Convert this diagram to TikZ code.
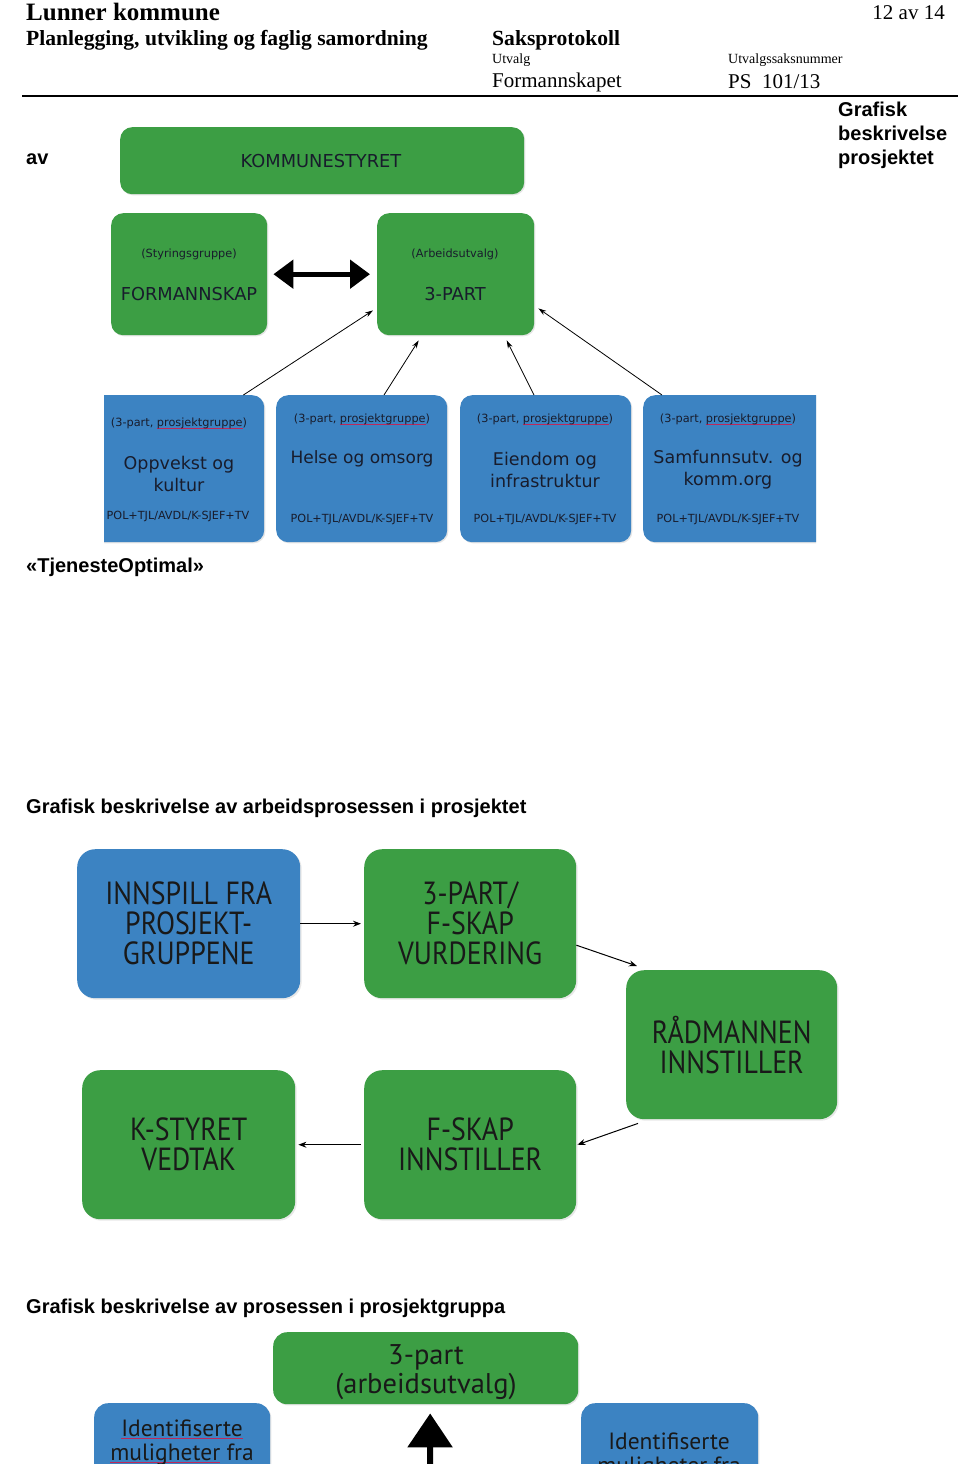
\documentclass[tikz,border=0pt]{standalone}
\usepackage{fontspec}
\setmainfont{Liberation Serif}
\newfontfamily\arialf{Liberation Sans}
\newfontfamily\boxf{PT Sans}
\newfontfamily\boxd{DejaVu Sans}
\newfontfamily\boxn[FakeStretch=0.87]{PT Sans}
\usetikzlibrary{arrows.meta,shadows}
\definecolor{boxgreen}{RGB}{60,158,68}
\definecolor{boxblue}{RGB}{60,131,194}
\definecolor{boxtext}{RGB}{24,28,44}
\definecolor{spellred}{RGB}{190,40,90}
\newcommand{\fs}[1]{\fontsize{#1}{#1}\selectfont}
\newcommand{\redul}[1]{\setbox0\hbox{#1}\rlap{\textcolor{spellred}{\raisebox{-2.2pt}{\rule{\wd0}{0.7pt}}}}#1}
\tikzset{
  txt/.style={inner sep=0pt, text=black},
  gbox/.style={fill=boxgreen, rounded corners=12pt, draw=none, inner sep=0pt,
    drop shadow={opacity=0.2, shadow xshift=1.2pt, shadow yshift=-1.2pt}},
  bbox/.style={fill=boxblue, rounded corners=12pt, draw=none, inner sep=0pt,
    drop shadow={opacity=0.2, shadow xshift=1.2pt, shadow yshift=-1.2pt}},
  mbox/.style={rounded corners=18pt, draw=none, inner sep=0pt, align=center,
    text=black!90, minimum width=212pt, minimum height=149pt,
    drop shadow={opacity=0.18, shadow xshift=1.5pt, shadow yshift=-1.5pt}},
  btxt/.style={inner sep=0pt, text=boxtext},
  thinarrow/.style={line width=0.8pt, -{Stealth[length=8pt,width=5pt]}},
  midarrow/.style={line width=1pt, -{Stealth[length=8pt,width=6pt]}},
  dblarrow/.style={line width=5pt, {Triangle[length=20pt,width=28pt]}-{Triangle[length=20pt,width=28pt]}},
  fatarrow/.style={line width=6pt, -{Triangle[length=34pt,width=44pt]}},
  lbl/.style={inner sep=0pt, anchor=west, font=\arialf\bfseries\fs{20}},
}
\begin{document}
\begin{tikzpicture}[x=1pt,y=-1pt]
\useasboundingbox (0,0) rectangle (960,1464);
\clip (0,0) rectangle (960,1464);
\fill[white] (0,0) rectangle (960,1464);

% ---------- header ----------
\node[txt, anchor=west, font=\bfseries\fs{25}] (h1) at (26,12) {Lunner kommune};
\node[txt, anchor=east, font=\fs{21}] (pg) at (945,13) {12 av 14};
\node[txt, anchor=west, font=\bfseries\fs{21.6}] (h2) at (26,40) {Planlegging, utvikling og faglig samordning};
\node[txt, anchor=west, font=\bfseries\fs{21.6}] (h3) at (492,40) {Saksprotokoll};
\node[txt, anchor=west, font=\fs{14}] (h4) at (492,60) {Utvalg};
\node[txt, anchor=west, font=\fs{14}] (h5) at (728,60) {Utvalgssaksnummer};
\node[txt, anchor=west, font=\fs{21}] (h6) at (492,82) {Formannskapet};
\node[txt, anchor=west, font=\fs{21}] (h7) at (728,82) {PS\ \ 101/13};
\coordinate (rl) at (22,96);
\coordinate (rr) at (958,96);
\draw[line width=2pt] (rl) -- (rr);

\node[lbl, anchor=north west, align=left, font=\arialf\bfseries\fontsize{20}{24}\selectfont] (side) at (838,102) {Grafisk\\beskrivelse\\prosjektet};
\node[lbl] (av) at (26,159) {av};

% ---------- top diagram ----------
\begin{scope}
\clip (104,100) rectangle (816,543);
\node[gbox, anchor=north west, minimum width=404pt, minimum height=67pt] (ks) at (120,127) {};
\node[gbox, anchor=north west, minimum width=156pt, minimum height=122pt] (fm) at (111,213) {};
\node[gbox, anchor=north west, minimum width=157pt, minimum height=122pt] (tp) at (377,213) {};
\node[bbox, anchor=north west, minimum width=172pt, minimum height=147pt] (b1) at (92,395) {};
\node[bbox, anchor=north west, minimum width=171pt, minimum height=147pt] (b2) at (276,395) {};
\node[bbox, anchor=north west, minimum width=171pt, minimum height=147pt] (b3) at (460,395) {};
\node[bbox, anchor=north west, minimum width=185pt, minimum height=147pt] (b4) at (643,395) {};
\end{scope}

\node[btxt, font=\boxd\fs{17.8}] (ksT) at (321,161) {KOMMUNESTYRET};
\node[btxt, font=\boxd\fs{11.3}] (fmS) at (189,254) {(Styringsgruppe)};
\node[btxt, font=\boxd\fs{17.8}] (fmT) at (189,294) {FORMANNSKAP};
\node[btxt, font=\boxd\fs{11.3}] (tpS) at (455,254) {(Arbeidsutvalg)};
\node[btxt, font=\boxd\fs{17.8}] (tpT) at (455,294) {3-PART};

\node[btxt, font=\boxd\fs{11.3}] (b1S) at (179,423) {(3-part, \redul{prosjektgruppe})};
\node[btxt, align=center, font=\boxd\fontsize{17.5}{22}\selectfont] (b1T) at (179,474) {Oppvekst og\\kultur};
\node[btxt, font=\boxd\fs{11.2}] (b1P) at (178,516) {POL+TJL/AVDL/K-SJEF+TV};

\node[btxt, font=\boxd\fs{11.3}] (b2S) at (362,419) {(3-part, \redul{prosjektgruppe})};
\node[btxt, font=\boxd\fs{17}] (b2T) at (362,459) {Helse og omsorg};
\node[btxt, font=\boxd\fs{11.2}] (b2P) at (362,519) {POL+TJL/AVDL/K-SJEF+TV};

\node[btxt, font=\boxd\fs{11.3}] (b3S) at (545,419) {(3-part, \redul{prosjektgruppe})};
\node[btxt, align=center, font=\boxd\fontsize{17.5}{22}\selectfont] (b3T) at (545,470) {Eiendom og\\infrastruktur};
\node[btxt, font=\boxd\fs{11.2}] (b3P) at (545,519) {POL+TJL/AVDL/K-SJEF+TV};

\node[btxt, font=\boxd\fs{11.3}] (b4S) at (728,419) {(3-part, \redul{prosjektgruppe})};
\node[btxt, align=center, font=\boxd\fontsize{17.5}{22}\selectfont] (b4T) at (728,470) {Samfunnsutv. og\\komm.org};
\node[btxt, font=\boxd\fs{11.2}] (b4P) at (728,519) {POL+TJL/AVDL/K-SJEF+TV};

\draw[dblarrow, shorten <=6pt, shorten >=7pt] (fm.east) -- (tp.west);
\draw[thinarrow] ([xshift=-21pt]b1.north east) -- ([xshift=-4pt,yshift=25pt]tp.south west);
\draw[thinarrow] ([xshift=108pt]b2.north west) -- ([xshift=-37pt,yshift=-5pt]tp.south);
\draw[thinarrow] ([xshift=74pt]b3.north west) -- ([xshift=51pt,yshift=-5pt]tp.south);
\draw[thinarrow] ([xshift=19pt]b4.north west) -- ([xshift=4pt,yshift=27pt]tp.south east);

% ---------- labels ----------
\node[lbl] (tj) at (26,567) {«TjenesteOptimal»};
\node[lbl] (g2) at (26,808) {Grafisk beskrivelse av arbeidsprosessen i prosjektet};

% ---------- middle diagram ----------
\begin{scope}[every node/.append style={font=\boxn\fontsize{32}{30}\selectfont}]
\node[mbox, fill=boxblue, anchor=north west, minimum width=223pt] (m1) at (77,849) {INNSPILL FRA\\PROSJEKT-\\GRUPPENE};
\node[mbox, fill=boxgreen, anchor=north west] (m2) at (364,849) {3-PART/\\F-SKAP\\VURDERING};
\node[mbox, fill=boxgreen, anchor=north west, minimum width=211pt] (m3) at (626,970) {RÅDMANNEN\\INNSTILLER};
\node[mbox, fill=boxgreen, anchor=north west, minimum width=213pt] (m4) at (82,1070) {K-STYRET\\VEDTAK};
\node[mbox, fill=boxgreen, anchor=north west] (m5) at (364,1070) {F-SKAP\\INNSTILLER};
\end{scope}
\draw[midarrow, shorten >=3pt] (m1.east) -- (m2.west);
\draw[midarrow] ([yshift=-21.5pt]m2.east) -- ([xshift=11pt,yshift=4pt]m3.north west);
\draw[midarrow] ([xshift=12pt,yshift=-4pt]m3.south west) -- ([xshift=1pt]m5.east);
\draw[midarrow, shorten <=3pt, shorten >=3pt] (m5.west) -- (m4.east);

% ---------- bottom ----------
\node[lbl] (g3) at (26,1308) {Grafisk beskrivelse av prosessen i prosjektgruppa};
\node[gbox, anchor=north west, minimum width=305pt, minimum height=72pt, rounded corners=14pt] (n1) at (273,1332) {};
\node[btxt, align=center, text=black!90, font=\boxf\fontsize{28.5}{29}\selectfont] (n1T) at (426,1372) {3-part\\(arbeidsutvalg)};
\node[bbox, anchor=north west, minimum width=176pt, minimum height=120pt, rounded corners=14pt] (n2) at (94,1403) {};
\node[bbox, anchor=north west, minimum width=177pt, minimum height=120pt, rounded corners=14pt] (n3) at (581,1403) {};
\node[btxt, align=center, text=black!90, font=\boxf\fontsize{23.5}{24}\selectfont] (n2T) at (182,1443) {\redul{Identifiserte}\\\redul{muligheter} fra};
\node[btxt, align=center, text=black!90, font=\boxf\fontsize{23.5}{24}\selectfont] (n3T) at (669,1456) {Identifiserte\\muligheter fra};
\coordinate (fatbase) at (430,1475);
\draw[fatarrow, shorten >=9pt] (fatbase) -- ([xshift=4.5pt]n1.south);
\end{tikzpicture}
\end{document}
